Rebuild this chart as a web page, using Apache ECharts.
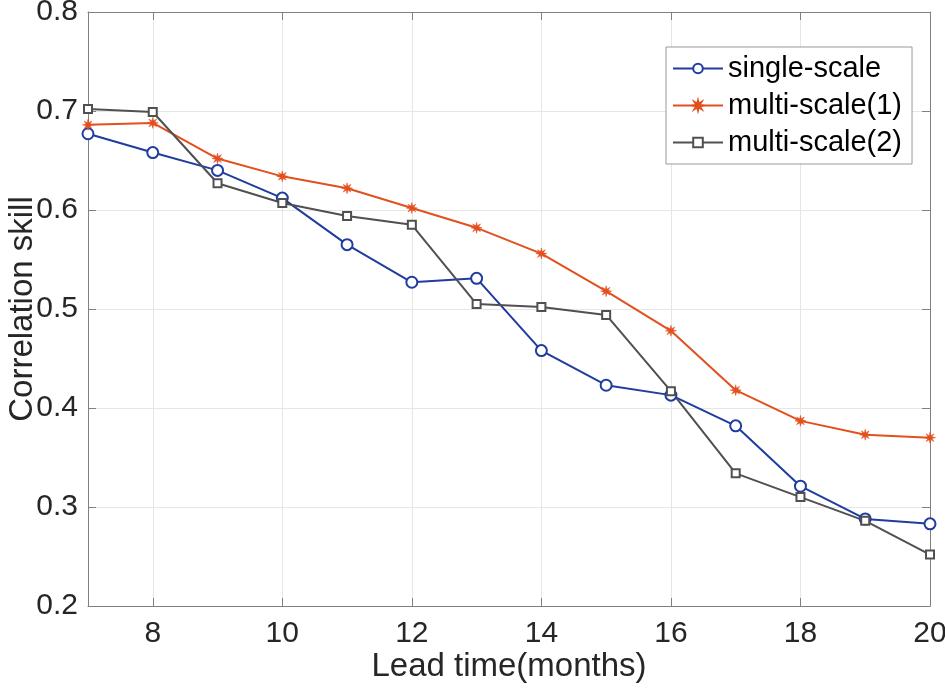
<!DOCTYPE html>
<html>
<head>
<meta charset="utf-8">
<script src="https://cdn.jsdelivr.net/npm/echarts@6/dist/echarts.min.js"></script>
<style>html,body{margin:0;padding:0;background:#fff}#c{width:945px;height:689px}</style>
</head>
<body>
<div id="c"></div>
<script>
const leadTimes = [7, 8, 9, 10, 11, 12, 13, 14, 15, 16, 17, 18, 19, 20];
const singleScale = [0.677, 0.658, 0.640, 0.612, 0.565, 0.527, 0.531, 0.458, 0.423, 0.413, 0.382, 0.321, 0.288, 0.283];
const multiScale1 = [0.686, 0.688, 0.652, 0.634, 0.622, 0.602, 0.582, 0.556, 0.518, 0.478, 0.418, 0.387, 0.373, 0.370];
const multiScale2 = [0.702, 0.699, 0.627, 0.607, 0.594, 0.585, 0.505, 0.502, 0.494, 0.417, 0.334, 0.310, 0.286, 0.252];
const xTicks = [8, 10, 12, 14, 16, 18, 20];
const seriesNames = ['single-scale', 'multi-scale(1)', 'multi-scale(2)'];

function starPath() {
  let d = '';
  for (let k = 0; k < 16; k++) {
    const r = k % 2 === 0 ? 10 : 4;
    const a = Math.PI * k / 8 - Math.PI / 2;
    const x = (10 + r * Math.cos(a)).toFixed(2), y = (10 + r * Math.sin(a)).toFixed(2);
    d += (k === 0 ? 'M' : 'L') + x + ' ' + y + ' ';
  }
  return 'path://' + d + 'Z';
}

const font = '"Liberation Sans", Arial, sans-serif';
const axisCol = '#808080';
const textCol = '#262626';
const pair = arr => leadTimes.map((x, i) => [x, arr[i]]);

const chart = echarts.init(document.getElementById('c'));
chart.setOption({
  animation: false,
  backgroundColor: '#fff',
  grid: { left: 88, right: 15, top: 12, bottom: 83, containLabel: false, outerBoundsMode: 'none' },
  legend: {
    orient: 'vertical', left: 666, top: 47,
    data: seriesNames,
    backgroundColor: '#fff', borderColor: '#999', borderWidth: 1,
    padding: [7, 10, 7, 6], itemGap: 8, itemWidth: 50, itemHeight: 12,
    textStyle: { fontFamily: font, fontSize: 29, color: '#000' }
  },
  xAxis: [{
    type: 'value', min: 7, max: 20,
    name: 'Lead time(months)', nameLocation: 'middle', nameGap: 44, nameMoveOverlap: false,
    nameTextStyle: { fontFamily: font, fontSize: 33, color: textCol },
    axisLine: { show: true, onZero: false, lineStyle: { color: axisCol, width: 1 } },
    axisTick: { show: true, inside: true, length: 8, customValues: xTicks, lineStyle: { color: axisCol } },
    axisLabel: { customValues: xTicks, margin: 13, fontFamily: font, fontSize: 30, color: textCol },
    splitLine: { show: true, lineStyle: { color: '#e6e6e6', width: 1 } }
  }, {
    type: 'value', min: 7, max: 20, position: 'top',
    axisLine: { show: true, onZero: false, lineStyle: { color: axisCol, width: 1 } },
    axisTick: { show: true, inside: true, length: 8, customValues: xTicks, lineStyle: { color: axisCol } },
    axisLabel: { show: false }, splitLine: { show: false }
  }],
  yAxis: [{
    type: 'value', min: 0.2, max: 0.8, interval: 0.1,
    name: 'Correlation skill', nameLocation: 'middle', nameGap: 49, nameMoveOverlap: false,
    nameTextStyle: { fontFamily: font, fontSize: 33, color: textCol },
    axisLine: { show: true, onZero: false, lineStyle: { color: axisCol, width: 1 } },
    axisTick: { show: true, inside: true, length: 8, lineStyle: { color: axisCol } },
    axisLabel: { margin: 10, fontFamily: font, fontSize: 30, color: textCol, formatter: v => v.toFixed(1) },
    splitLine: { show: true, lineStyle: { color: '#e6e6e6', width: 1 } }
  }, {
    type: 'value', min: 0.2, max: 0.8, interval: 0.1, position: 'right',
    axisLine: { show: true, onZero: false, lineStyle: { color: axisCol, width: 1 } },
    axisTick: { show: true, inside: true, length: 8, lineStyle: { color: axisCol } },
    axisLabel: { show: false }, splitLine: { show: false }
  }],
  series: [{
    name: seriesNames[0], type: 'line', data: pair(singleScale),
    symbol: 'circle', symbolSize: 11, showAllSymbol: true,
    lineStyle: { color: '#1f3c9e', width: 2 },
    itemStyle: { color: '#fff', borderColor: '#1f3c9e', borderWidth: 2 }
  }, {
    name: seriesNames[1], type: 'line', data: pair(multiScale1),
    symbol: starPath(), symbolSize: 11, showAllSymbol: true,
    lineStyle: { color: '#e2501e', width: 2 },
    itemStyle: { color: '#e2501e', borderColor: '#e2501e', borderWidth: 0.5 }
  }, {
    name: seriesNames[2], type: 'line', data: pair(multiScale2),
    symbol: 'rect', symbolSize: 8, showAllSymbol: true,
    lineStyle: { color: '#505050', width: 2 },
    itemStyle: { color: '#fff', borderColor: '#505050', borderWidth: 2 }
  }]
});
</script>
</body>
</html>
